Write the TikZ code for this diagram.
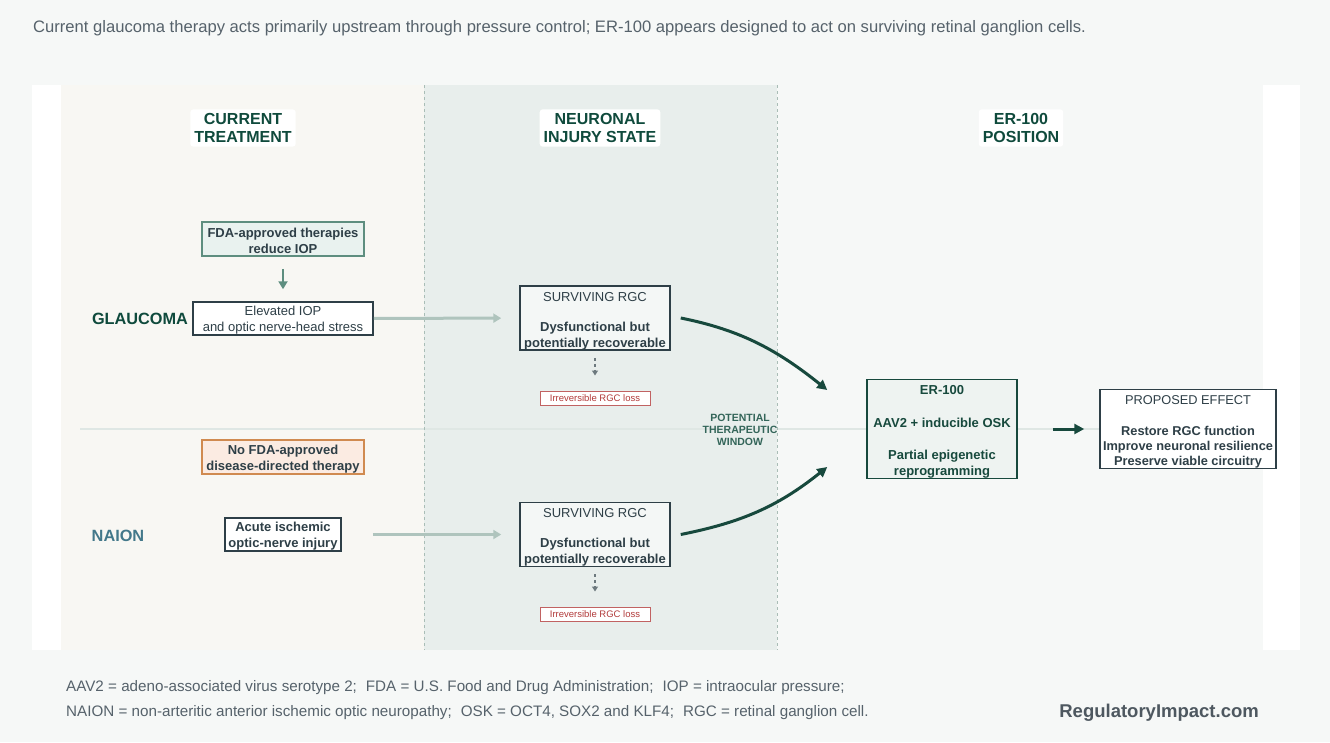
\documentclass[tikz,border=0pt]{standalone}
\usepackage{fontspec}
\setmainfont{Liberation Sans}
\usetikzlibrary{arrows.meta}
\definecolor{pagebg}{HTML}{F6F8F7}
\definecolor{colone}{HTML}{F8F7F3}
\definecolor{coltwo}{HTML}{E8EEEC}
\definecolor{colthree}{HTML}{F6F8F7}
\definecolor{hdrgreen}{HTML}{0F4A3C}
\definecolor{slate}{HTML}{2E3F47}
\definecolor{softgreen}{HTML}{5E8E7F}
\definecolor{mintfill}{HTML}{E9F2EF}
\definecolor{flowgrey}{HTML}{AFC4BD}
\definecolor{sepgrey}{HTML}{A9BDB6}
\definecolor{lossred}{HTML}{B23B3B}
\definecolor{peach}{HTML}{FBEBE2}
\definecolor{orangeline}{HTML}{D08A50}
\definecolor{naionblue}{HTML}{43788A}
\definecolor{capgrey}{HTML}{56626B}
\definecolor{ergreen}{HTML}{17493D}
\definecolor{erfill}{HTML}{EEF3F1}
\definecolor{rgcfill}{HTML}{F4F7F6}
\newcommand{\topstrut}[1][15pt]{\rule{0pt}{#1}}

\begin{document}
\begin{tikzpicture}[x=1pt,y=-1pt,
    header/.style={fill=white,rounded corners=3pt,align=center,text=hdrgreen,
        font=\bfseries\fontsize{16}{18}\selectfont,inner sep=4pt},
    box/.style={draw=slate,line width=1.5pt,fill=white,align=center,text=slate,
        inner sep=0pt,font=\fontsize{13}{16}\selectfont},
    therapy/.style={box,draw=softgreen,fill=mintfill,font=\bfseries\fontsize{13}{16}\selectfont},
    untreated/.style={box,draw=orangeline,fill=peach,font=\bfseries\fontsize{13}{16}\selectfont},
    rgcbox/.style={box,fill=rgcfill,minimum width=150,minimum height=64},
    lossbox/.style={draw=lossred!80,fill=white,text=lossred,line width=1pt,
        font=\fontsize{9.5}{11}\selectfont,minimum width=110,minimum height=14,inner sep=0pt},
    disease/.style={font=\bfseries\fontsize{16.3}{19}\selectfont},
    note/.style={anchor=west,inner sep=0pt,text=capgrey,font=\fontsize{15.2}{18}\selectfont},
    feed/.style={draw=softgreen,line width=2pt,-{Triangle[length=8pt,width=9pt]}},
    flow/.style={draw=flowgrey,line width=3pt,-{Triangle[length=8pt,width=9pt]}},
    fade/.style={draw=slate!70,line width=1.5pt,dash pattern=on 3pt off 3pt,
        -{Triangle[length=5pt,width=6pt]}},
    reach/.style={draw=ergreen,line width=3pt,-{Triangle[length=10pt,width=10pt]}},
    colsep/.style={draw=sepgrey,line width=1pt,dash pattern=on 3pt off 3pt}]
\useasboundingbox (0,0) rectangle (1330,742);
\fill[pagebg] (0,0) rectangle (1330,742);
\fill[white] (32,85) rectangle (1300,650);
\fill[colone] (61,85) rectangle (424,650);
\fill[coltwo] (424,85) rectangle (777,650);
\fill[colthree] (777,85) rectangle (1263,650);
\draw[draw=coltwo!85!sepgrey,line width=1.2pt] (80,429) -- (1100,429);
\draw[colsep] (424,85) -- (424,650);
\draw[colsep] (777,85) -- (777,650);

\node[note,font=\fontsize{16.6}{19}\selectfont] (title) at (33,28)
    {Current glaucoma therapy acts primarily upstream through pressure control; ER-100 appears designed to act on surviving retinal ganglion cells.};

\node[header] (hdrtreat) at (243,128) {CURRENT\\TREATMENT};
\node[header] (hdrstate) at (600,128) {NEURONAL\\INJURY STATE};
\node[header] (hdrpos) at (1021,128) {ER-100\\POSITION};

\node[therapy,minimum width=162,minimum height=34] (fda) at (283,239) {\topstrut[13pt]FDA-approved therapies\\reduce IOP};
\node[box,minimum width=180,minimum height=33] (elev) at (283,318.5) {\topstrut[13pt]Elevated IOP\\and optic nerve-head stress};
\node[disease,text=hdrgreen] (glaucoma) at (140,319) {GLAUCOMA};
\node[rgcbox] (survA) at (595,318) {\topstrut SURVIVING RGC\\[14pt]\textbf{Dysfunctional but}\\\textbf{potentially recoverable}};
\node[lossbox] (lossA) at (595,398) {Irreversible RGC loss};

\node[untreated,minimum width=162,minimum height=34] (nofda) at (283,457) {\topstrut[13pt]No FDA-approved\\disease-directed therapy};
\node[box,font=\bfseries\fontsize{13}{16}\selectfont,minimum width=116,minimum height=33] (acute) at (283,534.5) {\topstrut[13pt]Acute ischemic\\optic-nerve injury};
\node[disease,text=naionblue] (naion) at (118,536) {NAION};
\node[rgcbox] (survB) at (595,534.5) {\topstrut SURVIVING RGC\\[14pt]\textbf{Dysfunctional but}\\\textbf{potentially recoverable}};
\node[lossbox] (lossB) at (595,614) {Irreversible RGC loss};

\node[align=center,text=hdrgreen!85!white,font=\bfseries\fontsize{10.5}{12}\selectfont] (window) at (740,430)
    {POTENTIAL\\THERAPEUTIC\\WINDOW};
\node[box,draw=ergreen,fill=erfill,text=ergreen,font=\bfseries\fontsize{13}{16}\selectfont,
    minimum width=150,minimum height=98] (er) at (942,429)
    {\topstrut ER-100\\[17pt]AAV2 + inducible OSK\\[16pt]Partial epigenetic\\reprogramming};
\node[box,minimum width=176,minimum height=78,font=\fontsize{12.8}{15}\selectfont] (effect) at (1188,429)
    {\topstrut PROPOSED EFFECT\\[16pt]\textbf{Restore RGC function}\\\textbf{Improve neuronal resilience}\\\textbf{Preserve viable circuitry}};

\draw[feed,shorten <=12pt,shorten >=12pt] (fda) -- (elev);
\draw[flow,shorten >=18pt] (elev) -- (survA);
\draw[flow,shorten <=31pt,shorten >=18pt] (acute) -- (survB);
\draw[fade,shorten <=7pt,shorten >=15pt] (survA) -- (lossA);
\draw[fade,shorten <=7pt,shorten >=15pt] (survB) -- (lossB);
\draw[reach] ([xshift=10pt]survA.east) .. controls +(60,12) and +(-50,-40) .. ([xshift=-39pt,yshift=39pt]er.west);
\draw[reach] ([xshift=10pt]survB.east) .. controls +(60,-12) and +(-50,40) .. ([xshift=-39pt,yshift=-38pt]er.west);
\draw[reach,shorten <=35pt,shorten >=15pt] (er) -- (effect);

\node[note] (noteA) at (66,688)
    {AAV2 = adeno-associated virus serotype 2;\hspace{9pt}FDA = U.S. Food and Drug Administration;\hspace{9pt}IOP = intraocular pressure;};
\node[note] (noteB) at (66,713)
    {NAION = non-arteritic anterior ischemic optic neuropathy;\hspace{9pt}OSK = OCT4, SOX2 and KLF4;\hspace{9pt}RGC = retinal ganglion cell.};
\node[anchor=east,inner sep=0pt,text=capgrey!90!black,font=\bfseries\fontsize{18.5}{21}\selectfont] (site) at (1259,713) {RegulatoryImpact.com};
\end{tikzpicture}
\end{document}
